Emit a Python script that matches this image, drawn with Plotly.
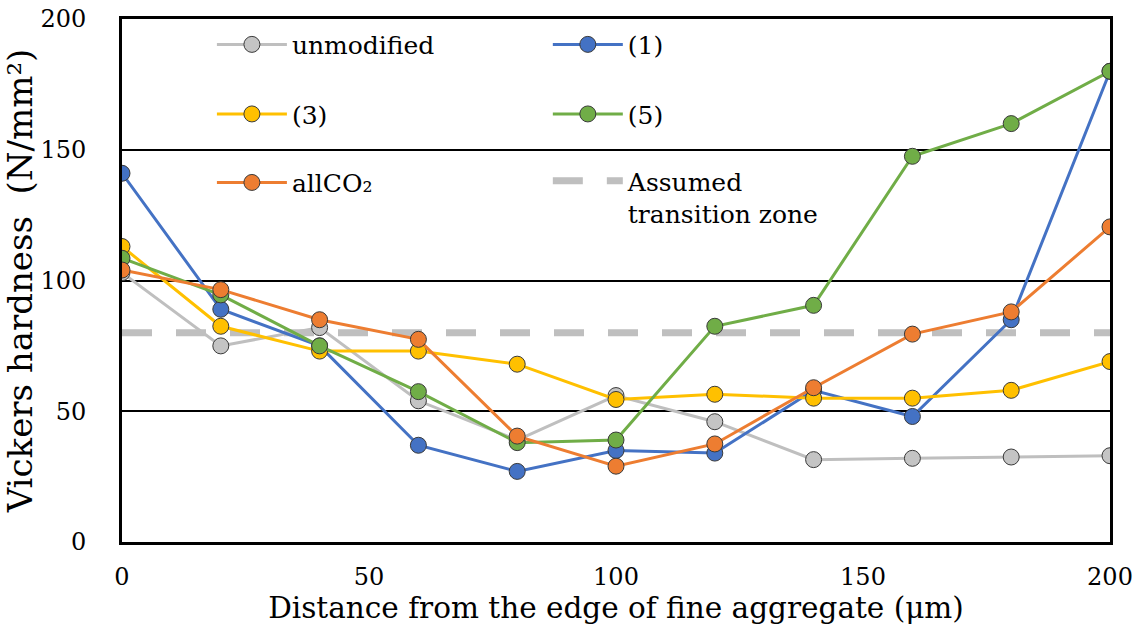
import plotly.graph_objects as go

distance = [0, 20, 40, 60, 80, 100, 120, 140, 160, 180, 200]
unmodified = [103, 75, 82, 54, 39, 56, 46, 31.5, 32, 32.5, 33]
s1 = [141, 89, 75, 37, 27, 35, 34, 58, 48, 85, 180]
s3 = [113, 82.5, 73, 73, 68, 54.5, 56.5, 55, 55, 58, 69]
s5 = [108.5, 94.5, 75, 57.5, 38, 39, 82.5, 90.5, 147.5, 160, 180]
allco2 = [104, 96.5, 85, 77.5, 40.5, 29, 37.5, 59, 79.5, 88, 120.5]
transition_level = [80, 80]
transition_x = [0, 200]

names = ["unmodified", "(1)", "(3)", "(5)", "allCO\u2082"]
series = [unmodified, s1, s3, s5, allco2]
line_colors = ["#BFBFBF", "#4472C4", "#FFC000", "#70AD47", "#ED7D31"]
marker_colors = ["#C4C4C4", "#4472C4", "#FFC000", "#70AD47", "#ED7D31"]
legend_ids = ["legend", "legend2", "legend3", "legend4", "legend5"]

FONT = "DejaVu Serif"

fig = go.Figure()

fig.add_trace(go.Scatter(
    x=transition_x, y=transition_level, mode="lines",
    name="Assumed<br>transition zone",
    line=dict(color="#BFBFBF", width=7, dash="30px,24px"),
    legend="legend6", hoverinfo="skip",
))

for nm, ys, lc, mc, lg in zip(names, series, line_colors, marker_colors, legend_ids):
    fig.add_trace(go.Scatter(
        x=distance, y=ys, mode="lines+markers", name=nm,
        line=dict(color=lc, width=3),
        marker=dict(size=16, color=mc, line=dict(color="#3A3A3A", width=1)),
        legend=lg,
    ))

col1_x, col2_x = 0.091, 0.431
row_y = [0.951, 0.818, 0.687]
leg_common = dict(orientation="v", bgcolor="rgba(0,0,0,0)", borderwidth=0,
                  font=dict(family=FONT, size=25, color="#000000"),
                  xanchor="left", yanchor="middle", itemwidth=70)
layout_legends = {
    "legend": dict(x=col1_x, y=row_y[0], **leg_common),
    "legend2": dict(x=col2_x, y=row_y[0], **leg_common),
    "legend3": dict(x=col1_x, y=row_y[1], **leg_common),
    "legend4": dict(x=col2_x, y=row_y[1], **leg_common),
    "legend5": dict(x=col1_x, y=row_y[2], **leg_common),
}
l6 = dict(leg_common)
l6.update(yanchor="top", valign="top")
layout_legends["legend6"] = dict(x=col2_x, y=0.734, **l6)

fig.update_layout(
    width=1133, height=634,
    margin=dict(l=122, r=23, t=19, b=92),
    plot_bgcolor="white", paper_bgcolor="white",
    font=dict(family=FONT, size=24, color="#000000"),
    showlegend=True,
    **layout_legends,
)

fig.update_xaxes(
    range=[0, 200], tickvals=[0, 50, 100, 150, 200], showgrid=False, zeroline=False,
    showline=True, linecolor="black", linewidth=3, mirror=True, automargin=False,
    ticks="", ticklabelstandoff=11,
    tickfont=dict(family=FONT, size=24),
    title=dict(text="Distance from the edge of fine aggregate (\u03bcm)",
               font=dict(family=FONT, size=29.5), standoff=2),
)
fig.update_yaxes(
    range=[0, 200], tickvals=[0, 50, 100, 150, 200], showgrid=True, gridcolor="black",
    gridwidth=2, zeroline=False, automargin=False,
    showline=True, linecolor="black", linewidth=3, mirror=True,
    ticks="", ticklabelstandoff=28,
    tickfont=dict(family=FONT, size=24),
    title=dict(text="Vickers hardness  (N/mm\u00b2)", font=dict(family=FONT, size=34), standoff=0),
)

fig.add_shape(type="rect", xref="paper", yref="paper", x0=0.0536, x1=0.7318, y0=0.60, y1=0.985,
              fillcolor="white", line=dict(width=0), layer="between")

fig.write_html("out.html")
